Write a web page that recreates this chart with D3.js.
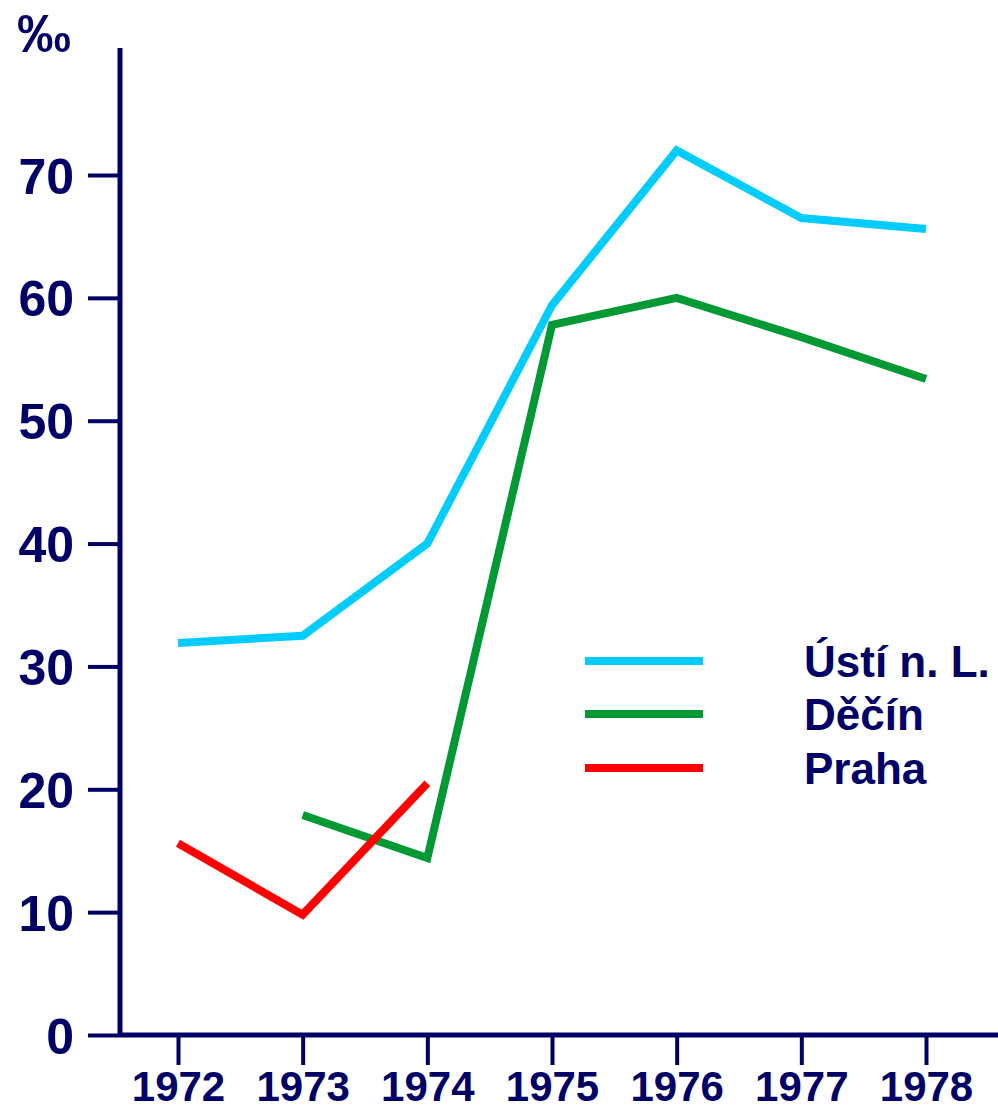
<!DOCTYPE html>
<html><head><meta charset="utf-8">
<script src="https://cdn.jsdelivr.net/npm/d3@7"></script>
<style>body{margin:0;background:#fff}svg{display:block}</style>
</head><body>
<script>
const years = [1972, 1973, 1974, 1975, 1976, 1977, 1978];
const yTicks = [0, 10, 20, 30, 40, 50, 60, 70];
const usti = [[1972, 31.9], [1973, 32.5], [1974, 40.0], [1975, 59.4], [1976, 72.0], [1977, 66.5], [1978, 65.6]];
const decin = [[1973, 17.9], [1974, 14.4], [1975, 57.8], [1976, 60.0], [1977, 56.8], [1978, 53.4]];
const praha = [[1972, 15.6], [1973, 9.8], [1974, 20.5]];
const seriesNames = ["Ústí n. L.", "Děčín", "Praha"];
const seriesColors = ["#00CCFF", "#009933", "#FF0000"];
const seriesData = [usti, decin, praha];

const W = 998, H = 1111;
const navy = "#000066";
const svg = d3.select("body").append("svg").attr("width", W).attr("height", H);
const x = d3.scaleLinear().domain([1972, 1978]).range([178, 926]);
const y = d3.scaleLinear().domain([0, 70]).range([1035, 175]);
const font = "'Liberation Sans', Arial, sans-serif";

// axes lines
svg.append("line").attr("x1", 120).attr("x2", 120).attr("y1", 48).attr("y2", 1037)
  .attr("stroke", navy).attr("stroke-width", 5);
svg.append("line").attr("x1", 118).attr("x2", W).attr("y1", 1035).attr("y2", 1035)
  .attr("stroke", navy).attr("stroke-width", 5);

// y ticks
const yAxis = d3.axisLeft(y).tickValues(yTicks).tickSize(30).tickPadding(14);
const gy = svg.append("g").attr("transform", "translate(118,0)").call(yAxis);
gy.select(".domain").remove();
gy.selectAll(".tick line").attr("stroke", navy).attr("stroke-width", 4);
gy.selectAll(".tick text").attr("fill", navy).attr("font-family", font)
  .attr("font-weight", "bold").attr("font-size", 50).attr("dy", "0.36em");

// x ticks
const xAxis = d3.axisBottom(x).tickValues(years).tickFormat(d3.format("d")).tickSize(28).tickPadding(6);
const gx = svg.append("g").attr("transform", "translate(0,1037)").call(xAxis);
gx.select(".domain").remove();
gx.selectAll(".tick line").attr("stroke", navy).attr("stroke-width", 4);
gx.selectAll(".tick text").attr("fill", navy).attr("font-family", font)
  .attr("font-weight", "bold").attr("font-size", 42).attr("dy", "0.71em");

// unit label
svg.append("text").attr("x", 17).attr("y", 52).text("‰")
  .attr("fill", navy).attr("font-family", font).attr("font-weight", "bold").attr("font-size", 54);

// lines
const line = d3.line().x(d => x(d[0])).y(d => y(d[1]));
seriesData.forEach((s, i) => {
  svg.append("path").datum(s).attr("d", line).attr("fill", "none")
    .attr("stroke", seriesColors[i]).attr("stroke-width", 8).attr("stroke-linejoin", "miter");
});

// legend
const legY = [661, 714, 768];
seriesNames.forEach((n, i) => {
  svg.append("line").attr("x1", 585).attr("x2", 703).attr("y1", legY[i]).attr("y2", legY[i])
    .attr("stroke", seriesColors[i]).attr("stroke-width", 8);
  svg.append("text").attr("x", 804).attr("y", legY[i] + 16).text(n)
    .attr("fill", navy).attr("font-family", font).attr("font-weight", "bold").attr("font-size", 44);
});
</script>
</body></html>
